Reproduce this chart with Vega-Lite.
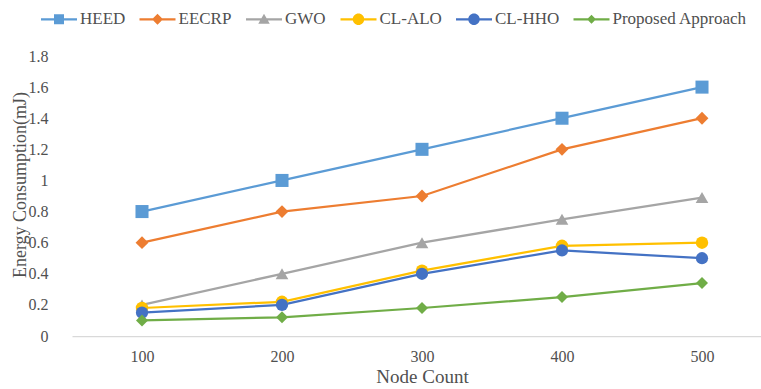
{
  "$schema": "https://vega.github.io/schema/vega-lite/v6.json",
  "autosize": {"type": "none"},
  "padding": {"left": 72, "top": 56, "right": 0, "bottom": 53},
  "width": 700,
  "height": 280,
  "background": "white",
  "config": {
    "view": {"stroke": null},
    "font": "Liberation Serif",
    "axis": {"labelFont": "Liberation Serif", "titleFont": "Liberation Serif", "labelColor": "#505050", "titleColor": "#505050", "grid": false, "ticks": false, "titleFontWeight": "normal"},
    "legend": {"labelFont": "Liberation Serif", "titleFont": "Liberation Serif", "labelColor": "#505050", "padding": 0}
  },
  "data": {
    "values": [
      {"n": "100", "series": "HEED", "value": 0.8},
      {"n": "200", "series": "HEED", "value": 1.0},
      {"n": "300", "series": "HEED", "value": 1.2},
      {"n": "400", "series": "HEED", "value": 1.4},
      {"n": "500", "series": "HEED", "value": 1.6},
      {"n": "100", "series": "EECRP", "value": 0.6},
      {"n": "200", "series": "EECRP", "value": 0.8},
      {"n": "300", "series": "EECRP", "value": 0.9},
      {"n": "400", "series": "EECRP", "value": 1.2},
      {"n": "500", "series": "EECRP", "value": 1.4},
      {"n": "100", "series": "GWO", "value": 0.2},
      {"n": "200", "series": "GWO", "value": 0.4},
      {"n": "300", "series": "GWO", "value": 0.6},
      {"n": "400", "series": "GWO", "value": 0.75},
      {"n": "500", "series": "GWO", "value": 0.89},
      {"n": "100", "series": "CL-ALO", "value": 0.18},
      {"n": "200", "series": "CL-ALO", "value": 0.22},
      {"n": "300", "series": "CL-ALO", "value": 0.42},
      {"n": "400", "series": "CL-ALO", "value": 0.58},
      {"n": "500", "series": "CL-ALO", "value": 0.6},
      {"n": "100", "series": "CL-HHO", "value": 0.15},
      {"n": "200", "series": "CL-HHO", "value": 0.2},
      {"n": "300", "series": "CL-HHO", "value": 0.4},
      {"n": "400", "series": "CL-HHO", "value": 0.55},
      {"n": "500", "series": "CL-HHO", "value": 0.5},
      {"n": "100", "series": "Proposed Approach", "value": 0.1},
      {"n": "200", "series": "Proposed Approach", "value": 0.12},
      {"n": "300", "series": "Proposed Approach", "value": 0.18},
      {"n": "400", "series": "Proposed Approach", "value": 0.25},
      {"n": "500", "series": "Proposed Approach", "value": 0.34}
    ]
  },
  "encoding": {
    "x": {"field": "n", "type": "ordinal", "sort": null, "scale": {"type": "point", "padding": 0.5},
      "axis": {"title": "Node Count", "labelAngle": 0, "labelFontSize": 16, "titleFontSize": 19, "labelPadding": 12, "titlePadding": 3, "domainColor": "#D9D9D9", "domainWidth": 1.25}},
    "y": {"field": "value", "type": "quantitative", "scale": {"domain": [0, 1.8], "nice": false},
      "axis": {"title": "Energy Consumption(mJ)", "values": [0, 0.2, 0.4, 0.6, 0.8, 1, 1.2, 1.4, 1.6, 1.8], "format": ".1~f", "domain": false, "labelFontSize": 16, "titleFontSize": 18, "labelPadding": 24, "titleX": -43, "titleY": 128.5}}
  },
  "resolve": {"scale": {"fill": "independent", "shape": "independent"}, "legend": {"fill": "independent", "shape": "independent"}},
  "layer": [
    {"mark": {"type": "line", "strokeWidth": 2.25},
      "encoding": {
        "color": {"field": "series", "type": "nominal",
          "scale": {"domain": ["HEED", "EECRP", "GWO", "CL-ALO", "CL-HHO", "Proposed Approach"], "range": ["#5B9BD5", "#ED7D31", "#A5A5A5", "#FFC000", "#4472C4", "#70AD47"]},
          "legend": null}
      }},
    {"mark": {"type": "point", "filled": true, "opacity": 1, "strokeWidth": 0},
      "encoding": {
        "fill": {"field": "series", "type": "nominal",
          "scale": {"domain": ["HEED", "EECRP", "GWO", "CL-ALO", "CL-HHO", "Proposed Approach"], "range": ["#5B9BD5", "#ED7D31", "#A5A5A5", "#FFC000", "#4472C4", "#70AD47"]},
          "legend": null},
        "shape": {"field": "series", "type": "nominal",
          "scale": {"domain": ["HEED", "EECRP", "GWO", "CL-ALO", "CL-HHO", "Proposed Approach"], "range": ["square", "diamond", "triangle-up", "circle", "circle", "diamond"]},
          "legend": null},
        "size": {"field": "series", "type": "nominal",
          "scale": {"domain": ["HEED", "EECRP", "GWO", "CL-ALO", "CL-HHO", "Proposed Approach"], "range": [170, 144, 170, 150, 150, 90]},
          "legend": null}
      }},
    {"mark": {"type": "point", "filled": true, "opacity": 0, "strokeWidth": 0},
      "encoding": {
        "fill": {"field": "series", "type": "nominal",
          "scale": {"domain": ["HEED", "EECRP", "GWO", "CL-ALO", "CL-HHO", "Proposed Approach"], "range": ["#5B9BD5", "#ED7D31", "#A5A5A5", "#FFC000", "#4472C4", "#70AD47"]},
          "legend": {"title": null, "orient": "none", "legendX": -21.5, "legendY": -45.5, "direction": "horizontal", "labelFontSize": 17, "symbolSize": 100, "symbolStrokeWidth": 0, "symbolOpacity": 1, "columnPadding": 13.5, "labelOffset": 12.5}},
        "shape": {"field": "series", "type": "nominal",
          "scale": {"domain": ["HEED", "EECRP", "GWO", "CL-ALO", "CL-HHO", "Proposed Approach"],
            "range": [
              "M-3.6,-0.225H3.6V0.225H-3.6Z M-1,-1H1V1H-1Z",
              "M-3.6,-0.225H3.6V0.225H-3.6Z M0,-1.1L1.1,0L0,1.1L-1.1,0Z",
              "M-3.6,-0.225H3.6V0.225H-3.6Z M0,-1.1L1.15,0.9L-1.15,0.9Z",
              "M-3.6,-0.225H3.6V0.225H-3.6Z M1.15,0A1.15,1.15 0 1,1 -1.15,0A1.15,1.15 0 1,1 1.15,0Z",
              "M-3.6,-0.225H3.6V0.225H-3.6Z M1.15,0A1.15,1.15 0 1,1 -1.15,0A1.15,1.15 0 1,1 1.15,0Z",
              "M-3.6,-0.225H3.6V0.225H-3.6Z M0,-0.9L0.9,0L0,0.9L-0.9,0Z"
            ]},
          "legend": {"title": null, "orient": "none", "legendX": -21.5, "legendY": -45.5, "direction": "horizontal", "labelFontSize": 17, "symbolSize": 100, "symbolStrokeWidth": 0, "symbolOpacity": 1, "columnPadding": 13.5, "labelOffset": 12.5}}
      }}
  ]
}
